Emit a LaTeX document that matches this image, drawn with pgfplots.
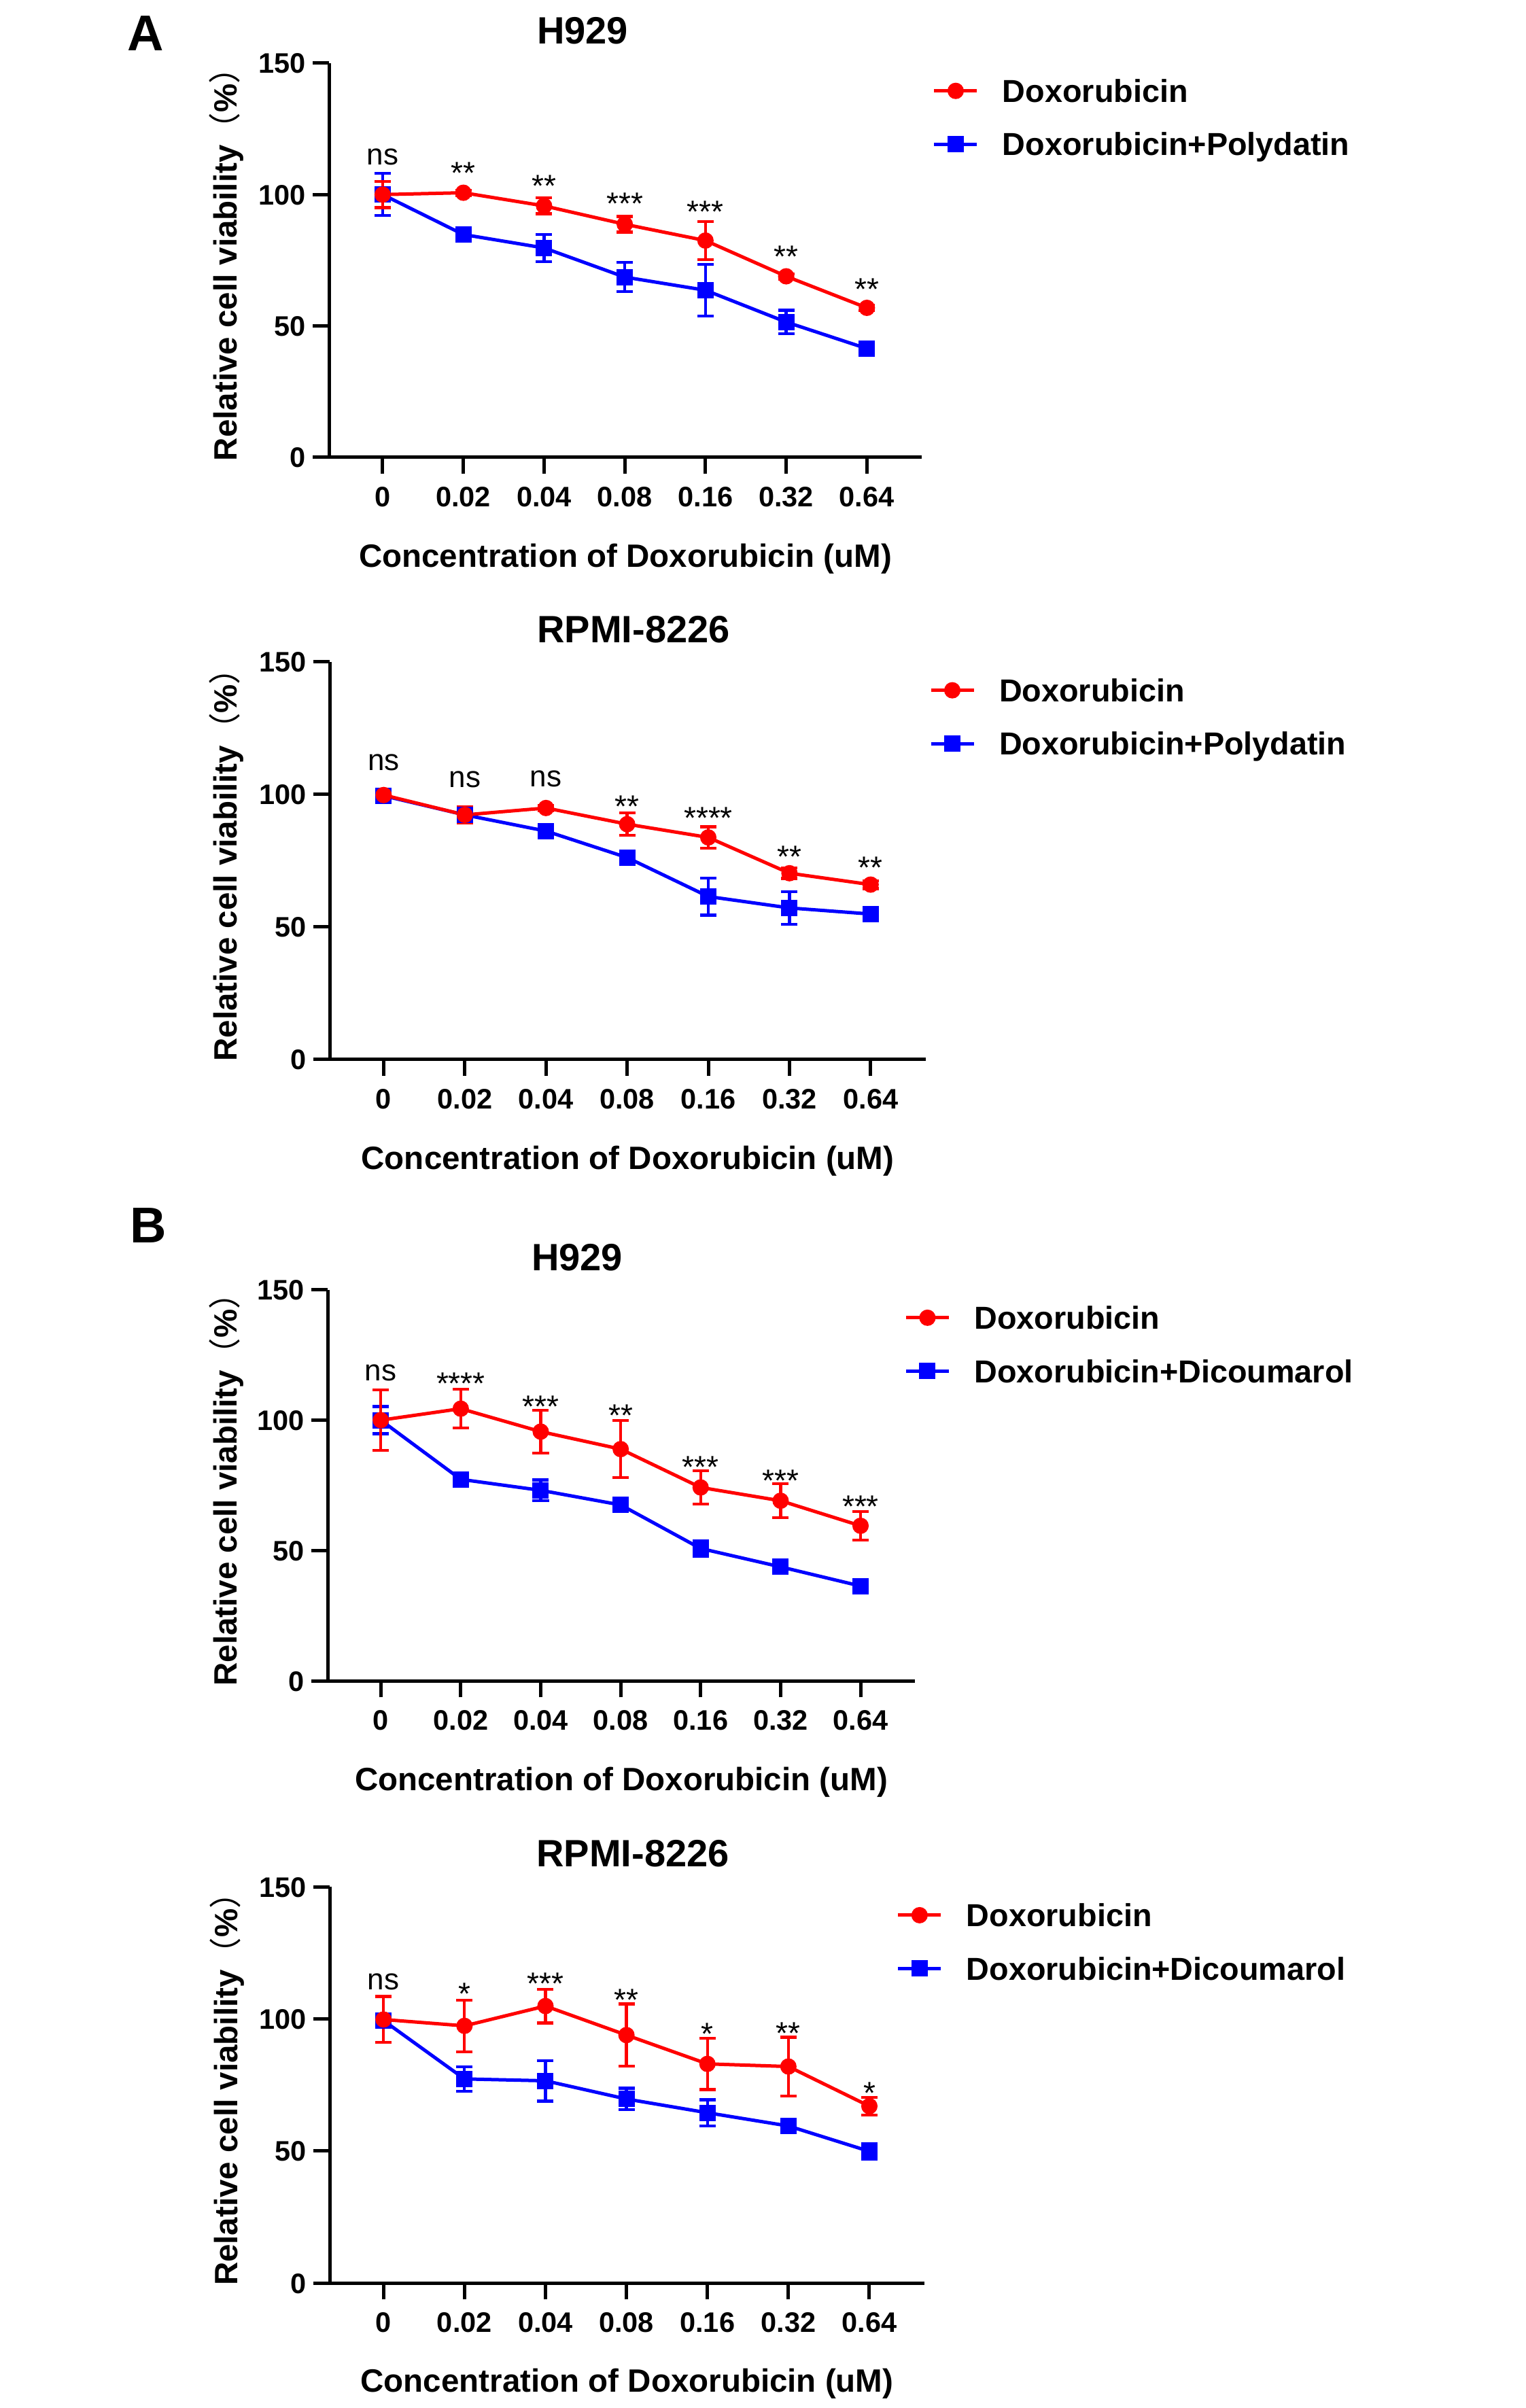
\documentclass[border=0pt]{standalone}
\usepackage{fontspec}
\setmainfont{Liberation Sans}
\newfontfamily\cjk{Noto Sans CJK SC}
\usepackage{pgfplots}
\usepackage{pgfplotstable}
\pgfplotsset{compat=1.18}

% Panel 1: H929, Polydatin
\pgfplotstableread{
x y e
0 100 5
1 100.7 1
2 95.7 3
3 88.7 3
4 82.5 7.3
5 68.9 1
6 56.9 1
}\PaR
\pgfplotstableread{
x y e
0 100 8
1 84.8 2.5
2 79.7 5.2
3 68.6 5.6
4 63.6 9.9
5 51.5 4.5
6 41.4 1.5
}\PaB
% Panel 2: RPMI-8226, Polydatin
\pgfplotstableread{
x y e
0 99.8 2
1 92.3 3
2 94.9 1
3 88.8 4.2
4 83.8 4
5 70.3 2
6 66 1.5
}\PbR
\pgfplotstableread{
x y e
0 99.5 2
1 92.3 3
2 86.2 1.5
3 76.2 1.5
4 61.5 7
5 57.2 6.2
6 54.9 2
}\PbB
% Panel 3: H929, Dicoumarol
\pgfplotstableread{
x y e
0 100 11.6
1 104.4 7.4
2 95.6 8.2
3 88.9 10.9
4 74.2 6.4
5 69.1 6.5
6 59.5 5.5
}\PcR
\pgfplotstableread{
x y e
0 100 5.2
1 77.3 1.5
2 73.1 4
3 67.5 1.5
4 50.8 3
5 43.75 1.5
6 36.4 1.5
}\PcB
% Panel 4: RPMI-8226, Dicoumarol
\pgfplotstableread{
x y e
0 99.8 8.7
1 97.4 9.8
2 104.9 6.4
3 93.9 11.8
4 83 9.7
5 82 11.1
6 67 3.3
}\PdR
\pgfplotstableread{
x y e
0 99.4 2
1 77.3 4.6
2 76.6 7.7
3 69.7 4.1
4 64.5 4.9
5 59.5 1.5
6 49.9 3
}\PdB

\tikzset{anno/.style={anchor=base, font=\fontsize{8.8}{8.8}\selectfont, inner sep=0pt},
  ast/.style={anno, font=\fontsize{9.2}{9.2}\selectfont, yshift=0.8pt}}

\pgfplotsset{
  panel/.style={
    scale only axis, clip=false,
    xmin=-0.665, xmax=6.68, ymin=0, ymax=150,
    axis x line*=bottom, axis y line*=left,
    axis line style={line width=1pt, -},
    every outer x axis line/.append style={-},
    every outer y axis line/.append style={-},
    xtick={0,1,2,3,4,5,6},
    xticklabels={0,0.02,0.04,0.08,0.16,0.32,0.64},
    ytick={0,50,100,150},
    tick align=outside,
    major tick length=4.8pt,
    every tick/.style={black, line width=1pt},
    /pgf/number format/assume math mode=true,
    ticklabel style={font=\bfseries\fontsize{8.3}{8.3}\selectfont, inner sep=0pt, text depth=0pt, text height=5.95pt},
    xticklabel style={anchor=north},
    yticklabel style={anchor=east},
    xticklabel shift=3.54pt,
    yticklabel shift=1.8pt,
    label style={font=\bfseries\fontsize{9.5}{9.5}\selectfont, inner sep=0pt, text depth=0pt},
    xlabel={Concentration of Doxorubicin (uM)},
    ylabel={Relative cell viability{\cjk\mdseries （}\%{\cjk\mdseries ）}},
    reverse legend,
    legend cell align=left,
    legend style={draw=none, fill=none, inner sep=0pt, outer sep=0pt,
      row sep=9pt, column sep=7pt,
      font=\bfseries\fontsize{9.35}{9.35}\selectfont,
      nodes={inner sep=0pt, text height=6.7pt, text depth=0pt, anchor=west}},
    legend image code/.code={\draw[#1, mark repeat=2, mark phase=2] plot coordinates {(0pt,0pt) (6.3pt,0pt) (12.6pt,0pt)};},
  },
  redser/.style={red, line width=1pt, mark=*, mark size=1.9pt, mark options={solid, fill=red},
    error bars/.cd, y dir=both, y explicit,
    error bar style={red, line width=0.85pt},
    error mark options={red, rotate=90, line width=0.85pt, mark size=2.4pt}},
  blueser/.style={blue, line width=1pt, mark=square*, mark size=1.9pt, mark options={solid, fill=blue},
    error bars/.cd, y dir=both, y explicit,
    error bar style={blue, line width=0.85pt},
    error mark options={blue, rotate=90, line width=0.85pt, mark size=2.4pt}},
}

\begin{document}
\begin{tikzpicture}
\useasboundingbox (0,0) rectangle (449pt,708.6pt);

% Panel letters and titles
\node[anchor=base west, inner sep=0pt, font=\bfseries\fontsize{14.8}{14.8}\selectfont] at (37.2pt,693.6pt) {A};
\node[anchor=base west, inner sep=0pt, font=\bfseries\fontsize{14.8}{14.8}\selectfont] at (38pt,342.8pt) {B};
\node[anchor=base, inner sep=0pt, font=\bfseries\fontsize{11.2}{11.2}\selectfont] at (171.4pt,695.6pt) {H929};
\node[anchor=base, inner sep=0pt, font=\bfseries\fontsize{11.2}{11.2}\selectfont] at (186.4pt,519.4pt) {RPMI-8226};
\node[anchor=base, inner sep=0pt, font=\bfseries\fontsize{11.2}{11.2}\selectfont] at (169.8pt,334.6pt) {H929};
\node[anchor=base, inner sep=0pt, font=\bfseries\fontsize{11.2}{11.2}\selectfont] at (186.2pt,159.2pt) {RPMI-8226};

% ---------- Panel 1 ----------
\begin{axis}[panel, at={(96.8pt,574pt)}, anchor=south west, width=174.4pt, height=116pt,
  xlabel style={at={(axis description cs:0.5,-0.2786)}, anchor=base},
  ylabel style={at={(axis description cs:-0.1537,0.51)}, anchor=south},
  legend style={at={(axis description cs:1.0183,0.9586)}, anchor=north west}]
\addplot[blueser] table[x=x, y=y, y error=e] {\PaB};
\addlegendentry{Doxorubicin+Polydatin}
\addplot[redser] table[x=x, y=y, y error=e] {\PaR};
\addlegendentry{Doxorubicin}
\node[anno] at (axis cs:0,111.3) {ns};
\node[ast] at (axis cs:1,103.1) {**};
\node[ast] at (axis cs:2,98.1) {**};
\node[ast] at (axis cs:3,91.4) {***};
\node[ast] at (axis cs:4,88.4) {***};
\node[ast] at (axis cs:5,71.3) {**};
\node[ast] at (axis cs:6,58.9) {**};
\end{axis}

% ---------- Panel 2 ----------
\begin{axis}[panel, at={(97pt,396.8pt)}, anchor=south west, width=175.4pt, height=117pt,
  xlabel style={at={(axis description cs:0.5,-0.2762)}, anchor=base},
  ylabel style={at={(axis description cs:-0.154,0.51)}, anchor=south},
  legend style={at={(axis description cs:1.0057,0.9573)}, anchor=north west}]
\addplot[blueser] table[x=x, y=y, y error=e] {\PbB};
\addlegendentry{Doxorubicin+Polydatin}
\addplot[redser] table[x=x, y=y, y error=e] {\PbR};
\addlegendentry{Doxorubicin}
\node[anno] at (axis cs:0,109.2) {ns};
\node[anno] at (axis cs:1,102.7) {ns};
\node[anno] at (axis cs:2,103) {ns};
\node[ast] at (axis cs:3,90.3) {**};
\node[ast] at (axis cs:4,86.1) {****};
\node[ast] at (axis cs:5,71.5) {**};
\node[ast] at (axis cs:6,67.2) {**};
\end{axis}

% ---------- Panel 3 ----------
\begin{axis}[panel, at={(96.4pt,213.94pt)}, anchor=south west, width=172.8pt, height=115.12pt,
  xlabel style={at={(axis description cs:0.5,-0.2802)}, anchor=base},
  ylabel style={at={(axis description cs:-0.1528,0.51)}, anchor=south},
  legend style={at={(axis description cs:0.982,0.9576)}, anchor=north west}]
\addplot[blueser] table[x=x, y=y, y error=e] {\PcB};
\addlegendentry{Doxorubicin+Dicoumarol}
\addplot[redser] table[x=x, y=y, y error=e] {\PcR};
\addlegendentry{Doxorubicin}
\node[anno] at (axis cs:0,115.1) {ns};
\node[ast] at (axis cs:1,109) {****};
\node[ast] at (axis cs:2,100.1) {***};
\node[ast] at (axis cs:3,96.5) {**};
\node[ast] at (axis cs:4,76.7) {***};
\node[ast] at (axis cs:5,71.7) {***};
\node[ast] at (axis cs:6,61.8) {***};
\end{axis}

% ---------- Panel 4 ----------
\begin{axis}[panel, at={(97pt,36.74pt)}, anchor=south west, width=175pt, height=116.6pt,
  xlabel style={at={(axis description cs:0.5,-0.2756)}, anchor=base},
  ylabel style={at={(axis description cs:-0.154,0.51)}, anchor=south},
  legend style={at={(axis description cs:0.953,0.9573)}, anchor=north west}]
\addplot[blueser] table[x=x, y=y, y error=e] {\PdB};
\addlegendentry{Doxorubicin+Dicoumarol}
\addplot[redser] table[x=x, y=y, y error=e] {\PdR};
\addlegendentry{Doxorubicin}
\node[anno] at (axis cs:0,111) {ns};
\node[ast] at (axis cs:1,104.4) {*};
\node[ast] at (axis cs:2,108.3) {***};
\node[ast] at (axis cs:3,102.1) {**};
\node[ast] at (axis cs:4,89.1) {*};
\node[ast] at (axis cs:5,89.4) {**};
\node[ast] at (axis cs:6,66.8) {*};
\end{axis}
\end{tikzpicture}
\end{document}
